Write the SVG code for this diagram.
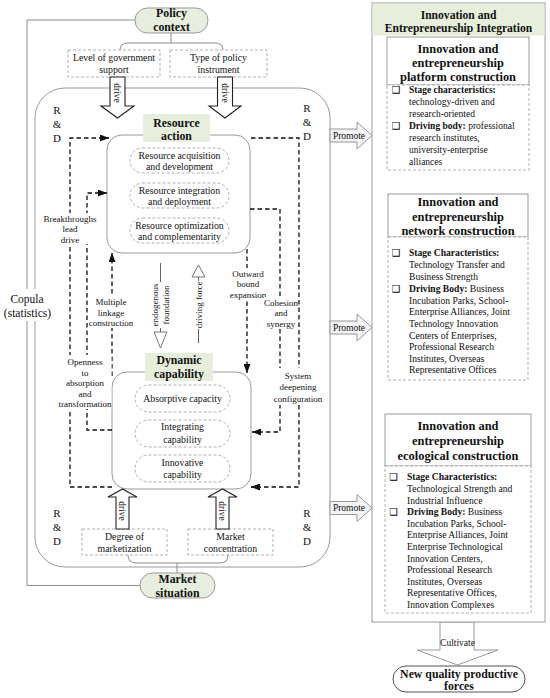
<svg xmlns="http://www.w3.org/2000/svg" width="550" height="698" viewBox="0 0 550 698">
<style>
text{font-family:"Liberation Serif","Times New Roman",serif;fill:#111}
.b{font-weight:bold}
.c{text-anchor:middle}
.f10{font-size:9.8px}
.f9{font-size:9px}
.f12{font-size:11.8px}
.ft{font-size:12.4px;font-weight:bold}
.bl{font-family:"DejaVu Sans",sans-serif;font-size:9.5px;text-anchor:middle;fill:#000}
.gl{fill:none;stroke:#8c8c8c;stroke-width:1}
.db{fill:#fff;stroke:#a8a8a8;stroke-width:0.9;stroke-dasharray:3,2}
.green{fill:#e7efdc}
.frame{fill:#fff;stroke:#9a9a9a;stroke-width:1}
.dl{fill:none;stroke:#111;stroke-width:1.3;stroke-dasharray:4.5,3}
.wb{fill:#fff}
.ha{fill:#fff;stroke:#222;stroke-width:1.1}
.hg{fill:#f4f4f4;stroke:#999;stroke-width:1}
.ho{fill:#fff;stroke:#666;stroke-width:0.9}
</style>
<defs>
<marker id="ah" markerUnits="userSpaceOnUse" markerWidth="9" markerHeight="7" refX="9" refY="3.5" orient="auto"><path d="M0,0 L9,3.5 L0,7 Z" fill="#111"/></marker>
<marker id="aj" markerUnits="userSpaceOnUse" markerWidth="6" markerHeight="6" refX="6" refY="3" orient="auto"><path d="M0,0 L6,3 L0,6 Z" fill="#222"/></marker>
</defs>

<g id="outer-frame">
<rect x="35" y="88" width="295" height="479" rx="30" class="frame"/>
<path d="M135,20 H27 V585.5 H140" class="gl"/>
</g>

<g id="copula">
<rect x="1" y="289" width="53" height="32" class="wb"/>
<text x="27" y="303" class="c" font-size="11.5">Copula</text>
<text x="27.5" y="317" class="c" font-size="11.5">(statistics)</text>
</g>

<g id="rd-labels" font-size="11">
<text x="57" y="114" class="c">R</text><text x="57" y="128" class="c">&amp;</text><text x="57" y="142" class="c">D</text>
<text x="307" y="112" class="c">R</text><text x="307" y="126" class="c">&amp;</text><text x="307" y="140" class="c">D</text>
<text x="57" y="517" class="c">R</text><text x="57" y="531" class="c">&amp;</text><text x="57" y="545" class="c">D</text>
<text x="307" y="517" class="c">R</text><text x="307" y="531" class="c">&amp;</text><text x="307" y="545" class="c">D</text>
</g>

<g id="policy-context">
<path d="M171,33 V43 M120,50 Q120,43 128,43 H215 Q223,43 223,50" class="gl"/>
<rect x="135" y="8" width="73" height="25" rx="12.5" fill="#e8eedf" stroke="#999"/>
<text x="171.5" y="17" class="c b f12">Policy</text>
<text x="171.5" y="31" class="c b f12">context</text>
</g>

<g id="gov-support">
<rect x="68" y="50" width="92" height="27" class="db"/>
<text x="114" y="60.5" class="c f10">Level of government</text>
<text x="114" y="72.5" class="c f10">support</text>
</g>

<g id="policy-instrument">
<rect x="170" y="50" width="97" height="27" class="db"/>
<text x="218.5" y="60.5" class="c f10">Type of policy</text>
<text x="218.5" y="72.5" class="c f10">instrument</text>
</g>

<g id="resource-action">
<rect x="107" y="135" width="143" height="118" rx="15" class="frame"/>
<rect x="143" y="114" width="67" height="28" class="green"/>
<text x="176.5" y="127" class="c b f12">Resource</text>
<text x="176.5" y="140" class="c b f12">action</text>
<rect x="130" y="148" width="99" height="25" rx="12.5" class="db"/>
<text x="179.5" y="158.5" class="c f10">Resource acquisition</text>
<text x="179.5" y="170" class="c f10">and development</text>
<rect x="130" y="183" width="99" height="25" rx="12.5" class="db"/>
<text x="179.5" y="193.5" class="c f10">Resource integration</text>
<text x="179.5" y="205" class="c f10">and deployment</text>
<rect x="130" y="218" width="99" height="25" rx="12.5" class="db"/>
<text x="179.5" y="228.5" class="c f10">Resource optimization</text>
<text x="179.5" y="240" class="c f10">and complementarity</text>
</g>

<g id="dynamic-capability">
<rect x="112" y="372" width="139" height="117" rx="15" class="frame"/>
<rect x="145" y="353" width="68" height="28" class="green"/>
<text x="179" y="364" class="c b f12">Dynamic</text>
<text x="179" y="378" class="c b f12">capability</text>
<rect x="135" y="385" width="95" height="27" rx="13.5" class="db"/>
<text x="182.5" y="401.5" class="c f10">Absorptive capacity</text>
<rect x="135" y="420" width="95" height="27" rx="13.5" class="db"/>
<text x="182.5" y="430" class="c f10">Integrating</text>
<text x="182.5" y="442.5" class="c f10">capability</text>
<rect x="135" y="455" width="95" height="27" rx="13.5" class="db"/>
<text x="182.5" y="466" class="c f10">Innovative</text>
<text x="182.5" y="477.5" class="c f10">capability</text>
</g>

<g id="degree-marketization">
<rect x="82" y="529" width="85" height="26" class="db"/>
<text x="124.5" y="540" class="c f10">Degree of</text>
<text x="124.5" y="551.5" class="c f10">marketization</text>
</g>

<g id="market-concentration">
<rect x="188" y="529" width="85" height="26" class="db"/>
<text x="230.5" y="540" class="c f10">Market</text>
<text x="230.5" y="551.5" class="c f10">concentration</text>
</g>

<g id="market-situation">
<path d="M128,555 Q128,563 136,563 H220 Q228,563 228,555 M177,563 V573" class="gl"/>
<rect x="140" y="573" width="75" height="25" rx="12.5" fill="#e8eedf" stroke="#999"/>
<text x="177.5" y="582.5" class="c b f12">Market</text>
<text x="177.5" y="596.5" class="c b f12">situation</text>
</g>

<g id="connectors">
<path d="M110,77 H125 V106 H134 L117.5,118 L101,106 H110 Z" class="ha"/>
<text transform="translate(117.5,93) rotate(90)" y="3.2" class="c" font-size="9.5">drive</text>
<path d="M217.5,77 H232.5 V106 H241 L225,118 L209,106 H217.5 Z" class="ha"/>
<text transform="translate(225,93) rotate(90)" y="3.2" class="c" font-size="9.5">drive</text>
<path d="M116,529 V497 H108 L122.5,489 L137,497 H129 V529 Z" class="ha"/>
<text transform="translate(122.5,511) rotate(90)" y="3.2" class="c" font-size="9.5">drive</text>
<path d="M216,529 V497 H208 L222.5,489 L237,497 H229 V529 Z" class="ha"/>
<text transform="translate(222.5,511) rotate(90)" y="3.2" class="c" font-size="9.5">drive</text>

<path d="M160.5,263 V332" stroke="#555" stroke-width="0.9"/>
<path d="M154,332 H167 L160.5,348 Z" class="ho"/>
<rect x="150" y="282" width="21" height="46" class="wb"/>
<text transform="translate(160.5,305) rotate(-90)" y="-2.3" class="c f9">endogenous</text>
<text transform="translate(160.5,305) rotate(-90)" y="8.7" class="c f9">foundation</text>
<path d="M198.5,277 V343" stroke="#555" stroke-width="0.9"/>
<path d="M192,277 H205 L198.5,265 Z" class="ho"/>
<rect x="193" y="281" width="11" height="48" class="wb"/>
<text transform="translate(198.5,305) rotate(-90)" y="3.2" class="c f9">driving force</text>

<path d="M112,487 H70 V138 H109" class="dl" marker-end="url(#ah)"/>
<path d="M112,430 H87 V193 H107" class="dl" marker-end="url(#ah)"/>
<path d="M112,376 V253" class="dl" marker-end="url(#ah)"/>
<path d="M247,249 V373" class="dl" marker-end="url(#ah)"/>
<path d="M250,209 H280 V432 H252" class="dl" marker-end="url(#ah)"/>
<path d="M251,138 H299 V487 H251" class="dl" marker-end="url(#ah)"/>

<rect x="43" y="213" width="54" height="31" class="wb"/>
<text x="70" y="222" class="c f9">Breakthroughs</text>
<text x="70" y="232" class="c f9">lead</text>
<text x="70" y="242.5" class="c f9">drive</text>
<rect x="89" y="296" width="45" height="32" class="wb"/>
<text x="111" y="305" class="c f9">Multiple</text>
<text x="111" y="315.5" class="c f9">linkage</text>
<text x="111" y="326" class="c f9">construction</text>
<rect x="58.5" y="355" width="53" height="54" class="wb"/>
<text x="85" y="365" class="c f9">Openness</text>
<text x="85" y="375.5" class="c f9">to</text>
<text x="85" y="386" class="c f9">absorption</text>
<text x="85" y="396.5" class="c f9">and</text>
<text x="85" y="407" class="c f9">transformation</text>
<rect x="229" y="268" width="38" height="31" class="wb"/>
<text x="248" y="277" class="c f9">Outward</text>
<text x="248" y="287" class="c f9">bound</text>
<text x="248" y="297.5" class="c f9">expansion</text>
<rect x="264" y="297" width="34" height="32" class="wb"/>
<text x="281" y="306" class="c f9">Cohesion</text>
<text x="281" y="316" class="c f9">and</text>
<text x="281" y="326.5" class="c f9">synergy</text>
<rect x="273" y="368" width="50" height="37" class="wb"/>
<text x="298" y="378.5" class="c f9">System</text>
<text x="298" y="390" class="c f9">deepening</text>
<text x="298" y="401.5" class="c f9">configuration</text>

<path d="M330,129 H357 V122 L372,135.5 L357,149 V142 H330 Z" class="hg"/>
<text x="349" y="138.8" class="c" font-size="9.5">Promote</text>
<path d="M330,321 H357 V314 L372,327.5 L357,341 V334 H330 Z" class="hg"/>
<text x="349" y="330.8" class="c" font-size="9.5">Promote</text>
<path d="M330,501.5 H357 V494.5 L372,508 L357,521.5 V514.5 H330 Z" class="hg"/>
<text x="349" y="511.3" class="c" font-size="9.5">Promote</text>

<path d="M457.5,170 V194" stroke="#222" stroke-width="0.9" marker-end="url(#aj)"/>
<rect x="445" y="178" width="25" height="10" class="wb"/>
<text x="457.5" y="186" class="c f9">Jump</text>
<path d="M457.5,380 V414" stroke="#222" stroke-width="0.9" marker-end="url(#aj)"/>
<rect x="445" y="392" width="25" height="10" class="wb"/>
<text x="457.5" y="400" class="c f9">Jump</text>

<path d="M440,622 V650 H417 L457.5,665 L498,650 H474 V622 Z" fill="#fff" stroke="#999"/>
<text x="457.5" y="646" class="c" font-size="9.5">Cultivate</text>
</g>

<g id="integration-panel">
<rect x="372" y="3" width="173" height="619" class="frame"/>
<rect x="372.5" y="3.5" width="172" height="32" class="green"/>
<text x="458.5" y="19" class="c b" font-size="11.6">Innovation and</text>
<text x="458.5" y="32" class="c b" font-size="11.6">Entrepreneurship Integration</text>
</g>

<g id="platform-construction">
<rect x="387" y="37" width="142" height="48" fill="#fff" stroke="#999"/>
<text x="458" y="52.5" class="c ft">Innovation and</text>
<text x="458" y="66.5" class="c ft">entrepreneurship</text>
<text x="458" y="81" class="c ft">platform construction</text>
<rect x="387" y="85" width="142" height="85" class="db"/>
<g font-size="9.5">
<text x="396" y="92.5" class="bl">❑</text>
<text x="409" y="92.5"><tspan class="b">Stage characteristics:</tspan></text>
<text x="409" y="104.5">technology-driven and</text>
<text x="409" y="116.5">research-oriented</text>
<text x="396" y="128.5" class="bl">❑</text>
<text x="409" y="128.5"><tspan class="b">Driving body:</tspan> professional</text>
<text x="409" y="140.5">research institutes,</text>
<text x="409" y="152.5">university-enterprise</text>
<text x="409" y="164.5">alliances</text>
</g>
</g>

<g id="network-construction">
<rect x="388" y="194" width="140" height="43" fill="#fff" stroke="#999"/>
<text x="458" y="206" class="c ft">Innovation and</text>
<text x="458" y="220.5" class="c ft">entrepreneurship</text>
<text x="458" y="235" class="c ft">network construction</text>
<rect x="388" y="237" width="140" height="143" class="db"/>
<g font-size="9.6">
<text x="396" y="256" class="bl">❑</text>
<text x="409" y="256"><tspan class="b">Stage Characteristics:</tspan></text>
<text x="409" y="268.3">Technology Transfer and</text>
<text x="409" y="280">Business Strength</text>
<text x="396" y="292.3" class="bl">❑</text>
<text x="409" y="292.3"><tspan class="b">Driving Body:</tspan> Business</text>
<text x="409" y="303.8">Incubation Parks, School-</text>
<text x="409" y="315.3">Enterprise Alliances, Joint</text>
<text x="409" y="326.9">Technology Innovation</text>
<text x="409" y="338.5">Centers of Enterprises,</text>
<text x="409" y="350.1">Professional Research</text>
<text x="409" y="361.7">Institutes, Overseas</text>
<text x="409" y="373.3">Representative Offices</text>
</g>
</g>

<g id="ecological-construction">
<rect x="385" y="414" width="146" height="52" fill="#fff" stroke="#999"/>
<text x="458" y="429.5" class="c ft">Innovation and</text>
<text x="458" y="444.5" class="c ft">entrepreneurship</text>
<text x="458" y="459.5" class="c ft">ecological construction</text>
<rect x="385" y="466" width="146" height="147" class="db"/>
<g font-size="9.6">
<text x="393.5" y="480.3" class="bl">❑</text>
<text x="407" y="480.3"><tspan class="b">Stage Characteristics:</tspan></text>
<text x="407" y="491.9">Technological Strength and</text>
<text x="407" y="503.5">Industrial Influence</text>
<text x="393.5" y="515.1" class="bl">❑</text>
<text x="407" y="515.1"><tspan class="b">Driving Body:</tspan> Business</text>
<text x="407" y="526.7">Incubation Parks, School-</text>
<text x="407" y="538.3">Enterprise Alliances, Joint</text>
<text x="407" y="549.9">Enterprise Technological</text>
<text x="407" y="561.5">Innovation Centers,</text>
<text x="407" y="573.1">Professional Research</text>
<text x="407" y="584.7">Institutes, Overseas</text>
<text x="407" y="596.3">Representative Offices,</text>
<text x="407" y="607.9">Innovation Complexes</text>
</g>
</g>

<g id="new-productive-forces">
<rect x="393" y="666" width="132" height="26" rx="13" fill="#fff" stroke="#555"/>
<text x="459" y="677.5" class="c b f12">New quality productive</text>
<text x="459" y="690" class="c b f12">forces</text>
</g>
</svg>
